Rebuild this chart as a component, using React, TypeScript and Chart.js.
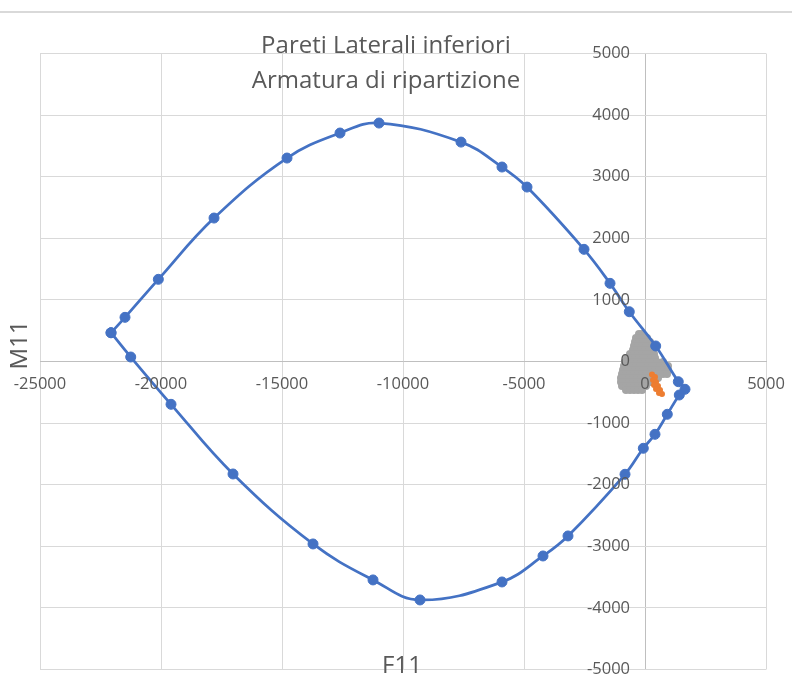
import React, { useEffect, useRef } from "react";
import { Chart, registerables } from "chart.js";

Chart.register(...registerables);

const TITLE_LINES = ["Pareti Laterali inferiori", "Armatura di ripartizione"];
const X_TITLE = "F11";
const Y_TITLE = "M11";

const X_MIN = -25000;
const X_MAX = 5000;
const X_STEP = 5000;
const Y_MIN = -5000;
const Y_MAX = 5000;
const Y_STEP = 1000;

// Blue interaction domain (closed polygon)
const domainX = [
  -22065, -21487, -20110, -17809, -14793, -12603, -10991, -7603, -5909, -4876,
  -2521, -1446, -649, 442, 1376, 1653, 1417, 921, 413, -70,
  -826, -3182, -4215, -5909, -9297, -11239, -13718, -17024, -19586, -21251,
  -22065,
];
const domainY = [
  467, 717, 1334, 2329, 3303, 3709, 3871, 3562, 3157, 2832,
  1821, 1269, 808, 252, -328, -451, -544, -857, -1182, -1409,
  -1831, -2832, -3157, -3579, -3871, -3546, -2962, -1826, -695, 73,
  467,
];

// Grey cloud of stress points, by rows of M11
const grayRowY = [446, 381, 316, 252, 187, 122, 57, -8, -73, -138, -203, -268, -333, -398, -463];
const grayRowX = [
  [-248, -124],
  [-372, -207, -41, 83],
  [-413, -248, -83, 83, 207],
  [-455, -289, -124, 41, 207, 289],
  [-496, -331, -165, 0, 165, 331],
  [-620, -455, -289, -124, 41, 207, 372],
  [-744, -578, -413, -248, -83, 83, 248, 413],
  [-826, -661, -496, -331, -165, 0, 165, 331, 496, 744],
  [-868, -702, -537, -372, -207, -41, 124, 289, 455, 620, 826, 950],
  [-909, -744, -578, -413, -248, -83, 83, 248, 413, 578, 785, 950],
  [-950, -785, -620, -455, -289, -124, 41, 207, 372, 537, 744, 909],
  [-992, -826, -661, -496, -331, -165, 0, 165, 331, 537],
  [-992, -826, -661, -496, -331, -165, 0, 165, 289],
  [-950, -785, -620, -455, -289, -124, 41],
  [-785, -620, -455, -289, -124],
];

// Orange points
const orangeX = [289, 413, 331, 455, 372, 537, 455, 620, 578, 702];
const orangeY = [-211, -252, -300, -333, -381, -398, -446, -463, -511, -527];

// y tick labels sit a little left of the vertical axis (F11 = 0)
const Y_LABEL_ANCHOR = -620;

const BLUE = "#4472C4";
const GRAY = "#A5A5A5";
const ORANGE = "#ED7D31";
const TEXT = "#595959";
const GRID = "#D9D9D9";
const AXIS = "#BFBFBF";
const FONT = "Open Sans";

const overlayPlugin = {
  id: "overlayText",
  afterDraw(chart: any) {
    const ctx = chart.ctx as CanvasRenderingContext2D;
    ctx.save();
    ctx.strokeStyle = GRID;
    ctx.lineWidth = 2;
    ctx.beginPath();
    ctx.moveTo(0, 12);
    ctx.lineTo(chart.width, 12);
    ctx.stroke();

    ctx.fillStyle = TEXT;
    ctx.font = `24px "${FONT}"`;
    ctx.textAlign = "center";
    ctx.textBaseline = "alphabetic";
    ctx.fillText(TITLE_LINES[0], 386, 53);
    ctx.fillText(TITLE_LINES[1], 386, 88);
    ctx.fillText(X_TITLE, 402, 673);
    ctx.translate(27, 345);
    ctx.rotate(-Math.PI / 2);
    ctx.fillText(Y_TITLE, 0, 0);
    ctx.restore();
  },
};

const noPadding = (s: any) => {
  s.paddingLeft = 0;
  s.paddingRight = 0;
  s.paddingTop = 0;
  s.paddingBottom = 0;
};

export default function App() {
  const ref = useRef<HTMLCanvasElement | null>(null);

  useEffect(() => {
    document.body.style.margin = "0";
    if (!ref.current) return;

    const domain = domainX.map((x, i) => ({ x, y: domainY[i] }));
    const gray: { x: number; y: number }[] = [];
    grayRowY.forEach((y, r) => grayRowX[r].forEach((x) => gray.push({ x, y })));
    const orange = orangeX.map((x, i) => ({ x, y: orangeY[i] }));

    const tickFont = { family: FONT, size: 16.5 };

    const chart = new Chart(ref.current, {
      type: "scatter",
      data: {
        datasets: [
          {
            label: "Dominio",
            data: domain,
            showLine: true,
            tension: 0.4,
            borderColor: BLUE,
            borderWidth: 2.75,
            backgroundColor: BLUE,
            pointRadius: 5,
            pointBorderWidth: 1,
            pointBackgroundColor: BLUE,
            pointBorderColor: BLUE,
          },
          {
            label: "Orange",
            data: orange,
            showLine: false,
            pointRadius: 3,
            pointBorderWidth: 0,
            pointBackgroundColor: ORANGE,
            pointBorderColor: ORANGE,
          },
          {
            label: "Gray",
            data: gray,
            showLine: false,
            pointRadius: 4,
            pointBorderWidth: 0,
            pointBackgroundColor: GRAY,
            pointBorderColor: GRAY,
          },
        ],
      },
      options: {
        responsive: false,
        animation: false,
        devicePixelRatio: 1,
        layout: { padding: { left: 40, right: 26, top: 53.5, bottom: 7.5 } },
        plugins: {
          legend: { display: false },
          title: { display: false },
          tooltip: { enabled: false },
        },
        scales: {
          x: {
            type: "linear",
            position: { y: 0 } as any,
            min: X_MIN,
            max: X_MAX,
            afterFit: noPadding,
            grid: {
              color: (c: any) => (c.tick && c.tick.value === 0 ? AXIS : GRID),
              lineWidth: 1,
              drawTicks: false,
            },
            border: { display: true, color: AXIS, width: 1 },
            ticks: {
              stepSize: X_STEP,
              color: TEXT,
              font: tickFont,
              padding: 13,
              z: 1,
              maxRotation: 0,
              autoSkip: false,
              callback: (v: any) => String(v),
            },
          },
          y: {
            type: "linear",
            position: { x: Y_LABEL_ANCHOR } as any,
            min: Y_MIN,
            max: Y_MAX,
            afterFit: noPadding,
            grid: { color: GRID, lineWidth: 1, drawTicks: false },
            border: { display: false },
            ticks: {
              stepSize: Y_STEP,
              color: TEXT,
              font: tickFont,
              padding: 0,
              z: 1,
              autoSkip: false,
              callback: (v: any) => String(v),
            },
          },
        },
      },
      plugins: [overlayPlugin],
    });
    return () => chart.destroy();
  }, []);

  return (
    <div style={{ width: 792, height: 677, background: "#fff" }}>
      <canvas ref={ref} width={792} height={677} style={{ display: "block", width: 792, height: 677 }} />
    </div>
  );
}
